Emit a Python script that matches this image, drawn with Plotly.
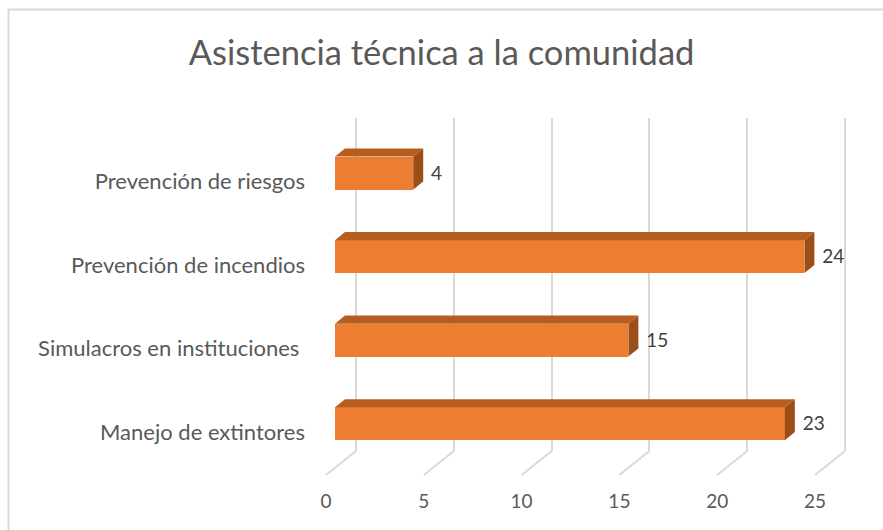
import plotly.graph_objects as go

# ── Data ──────────────────────────────────────────────────────────
categories = ["Manejo de extintores", "Simulacros en instituciones\u00a0",
              "Prevención de incendios", "Prevención de riesgos"]
values = [23, 15, 24, 4]
x_ticks = [0, 5, 10, 15, 20, 25]

TITLE = "Asistencia técnica a la comunidad"

# ── Style ─────────────────────────────────────────────────────────
FRONT = "#ED7D31"
TOP = "#B65D20"
SIDE = "#9C4E18"
GRIDC = "#D9D9D9"
TXT = "#595959"
FONT = "Lato"

W, H = 883, 530
ML, MR, MT, MB = 320, 33, 118, 54
PW, PH = W - ML - MR, H - MT - MB

BAR_W = 0.395      # bar thickness (category units)
BAR_OFF = 0.10     # bar centre above label
DDX = 0.51         # bar depth in x units
DDY = 0.096        # bar depth in y units
BACK_SHIFT = 1.074  # back wall shift (x units)
LBL_SHIFT = 0.46    # floor front shift (x units)
Y_BACK = -0.2275
Y_FRONT = -0.515

pos = list(range(len(categories)))

fig = go.Figure()

# empty trace so the back-wall subplot (grid) gets drawn
fig.add_trace(go.Scatter(x=[], y=[], xaxis="x", yaxis="y", showlegend=False))

# floor diagonals
fx, fy = [], []
for t in x_ticks:
    fx += [t + BACK_SHIFT, t - LBL_SHIFT, None]
    fy += [Y_BACK, Y_FRONT, None]
fig.add_trace(go.Scatter(x=fx, y=fy, mode="lines", xaxis="x2", yaxis="y2",
                         line=dict(color=GRIDC, width=2), hoverinfo="skip",
                         showlegend=False))

# front faces
fig.add_trace(go.Bar(
    x=values, y=[p + BAR_OFF for p in pos], orientation="h",
    width=BAR_W, marker=dict(color=FRONT, line=dict(width=0)),
    xaxis="x2", yaxis="y2", showlegend=False, hoverinfo="x",
))

# top and side faces
for p, v in zip(pos, values):
    yt = p + BAR_OFF + BAR_W / 2
    yb = p + BAR_OFF - BAR_W / 2
    fig.add_trace(go.Scatter(
        x=[0, v, v + DDX, DDX, 0], y=[yt, yt, yt + DDY, yt + DDY, yt],
        fill="toself", fillcolor=TOP, mode="lines", line=dict(width=0, color=TOP),
        xaxis="x2", yaxis="y2", hoverinfo="skip", showlegend=False))
    fig.add_trace(go.Scatter(
        x=[v, v + DDX, v + DDX, v, v], y=[yt, yt + DDY, yb + DDY, yb, yt],
        fill="toself", fillcolor=SIDE, mode="lines", line=dict(width=0, color=SIDE),
        xaxis="x2", yaxis="y2", hoverinfo="skip", showlegend=False))

# data labels
fig.add_trace(go.Scatter(
    x=[v + DDX + 0.4 for v in values], y=[p + BAR_OFF - 0.02 for p in pos],
    mode="text", text=[str(v) for v in values], textposition="middle right",
    textfont=dict(family=FONT, size=19, color="#404040"),
    xaxis="x2", yaxis="y2", hoverinfo="skip", showlegend=False, cliponaxis=False))

fig.update_layout(
    width=W, height=H,
    margin=dict(l=ML, r=MR, t=MT, b=MB, autoexpand=False),
    paper_bgcolor="white",
    plot_bgcolor="rgba(0,0,0,0)",
    font=dict(family=FONT, color=TXT, size=19),
    title=dict(text=TITLE, x=0.5, xanchor="center", y=0.9, yanchor="middle",
               font=dict(family=FONT, size=34.5, color=TXT)),
    bargap=0,
    # back wall grid
    xaxis=dict(range=[-1.840, 25.256], tickvals=x_ticks, showgrid=True,
               gridcolor=GRIDC, gridwidth=2, showticklabels=False,
               zeroline=False, showline=False, anchor="y", fixedrange=True),
    yaxis=dict(domain=[0.07, 1], range=[0, 1], showgrid=False,
               showticklabels=False, zeroline=False, anchor="x"),
    # bars / front
    xaxis2=dict(range=[-0.767, 26.33], tickvals=x_ticks, showgrid=False,
                zeroline=False, showline=False, anchor="y2",
                ticklabelshift=-9, ticklabelstandoff=12,
                tickfont=dict(size=19, color=TXT)),
    yaxis2=dict(domain=[0, 1], range=[-0.527, 3.760], tickvals=pos,
                ticktext=categories, showgrid=False, zeroline=False,
                showline=False, anchor="x2", ticklabelstandoff=14,
                tickfont=dict(size=22, color=TXT)),
    # chart-area border (top/left visible, right/bottom run off the picture)
    shapes=[dict(type="rect", xref="paper", yref="paper",
                 x0=(8.5 - ML) / PW, x1=(W + 5 - ML) / PW,
                 y0=-(MB + 5) / PH, y1=1 + (MT - 9.5) / PH,
                 line=dict(color=GRIDC, width=2), layer="below")],
)

fig.write_html("out.html", config={"displayModeBar": False},
               post_script="document.body.style.margin='0';")
